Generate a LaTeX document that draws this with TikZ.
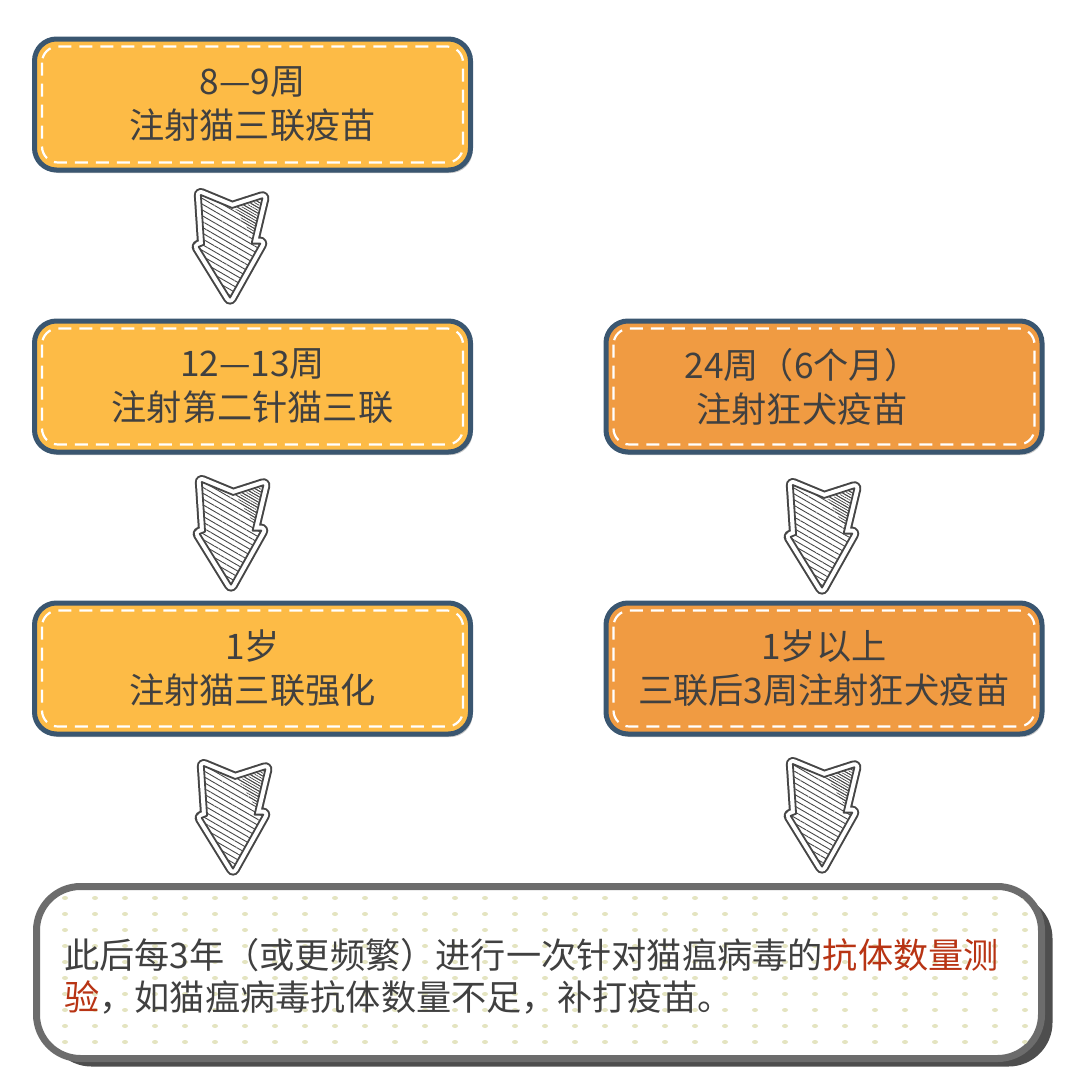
\documentclass[tikz,border=0pt]{standalone}
\usepackage{fontspec}
\setmainfont{Noto Sans CJK SC}
\usetikzlibrary{patterns.meta,shadows}
\definecolor{boxblue}{RGB}{58,86,112}
\definecolor{yel}{RGB}{253,187,70}
\definecolor{ora}{RGB}{240,155,66}
\definecolor{txt}{RGB}{64,64,64}
\definecolor{redt}{RGB}{184,52,20}
\definecolor{agray}{RGB}{70,70,70}
\definecolor{bgray}{RGB}{108,108,108}
\definecolor{bshadow}{RGB}{78,78,78}
\definecolor{dotc}{RGB}{228,228,192}
\newcommand\arrowshape{(-27,0) -- (2,12) -- (30,3) -- (20,45) -- (28,45) -- (0,95) -- (-29,48) -- (-24,46) -- cycle}
\tikzset{
  vbox/.style={draw=boxblue, line width=5pt, rounded corners=22pt, outer sep=0pt,
    minimum width=436pt, minimum height=131pt, align=center, text=txt,
    font=\fontsize{35.2pt}{44pt}\selectfont,
    drop shadow={shadow xshift=2pt, shadow yshift=-3pt, fill=black, opacity=0.22}},
  stitch/.style={draw=white, line width=2.2pt, rounded corners=16pt, dash pattern=on 13pt off 8pt},
  bottombox/.style={draw=bgray, fill=white, line width=7pt, rounded corners=44pt, outer sep=0pt,
    minimum width=1005pt, minimum height=172pt,
    drop shadow={shadow xshift=11pt, shadow yshift=-8pt, fill=bshadow, opacity=1}},
  bodytext/.style={text=txt, align=left, inner sep=0pt, font=\fontsize{35.2pt}{42pt}\selectfont},
  hatcharrow/.pic={
    \draw[agray, line width=14pt, line join=round] \arrowshape;
    \draw[white, line width=10pt, line join=round] \arrowshape;
    \fill[white] \arrowshape;
    \fill[pattern={Lines[angle=-30,distance=5pt,line width=0.9pt]}, pattern color=agray] \arrowshape;
    \fill[pattern={Lines[angle=-30,distance=2.5pt,line width=0.7pt]}, pattern color=agray] (5,13) -- (28,5) -- (21,38) -- cycle;
    \draw[agray, line width=1.8pt, line join=round] \arrowshape;
  }
}
\begin{document}
\begin{tikzpicture}[x=1pt, y=-1pt]
\useasboundingbox[fill=white] (0,0) rectangle (1080,1092);

% boxes
\node[vbox, fill=yel] (b1) at (252.5,104.5) {8—9周\\注射猫三联疫苗};
\node[vbox, fill=yel] (b2) at (252.5,386.5) {12—13周\\注射第二针猫三联};
\node[vbox, fill=ora] (b3) at (824,386.5) {};
\node[vbox, fill=yel] (b4) at (252.5,668.5) {1岁\\注射猫三联强化};
\node[vbox, fill=ora] (b5) at (824,668.5) {1岁以上\\三联后3周注射狂犬疫苗};
\node[text=txt, align=center, inner sep=0pt, font=\fontsize{35.2pt}{44pt}\selectfont] (t3) at ([xshift=-22]b3.center) {24周（6个月）\\注射狂犬疫苗};

\foreach \b in {b1,b2,b3,b4,b5}
  \draw[stitch] ([shift={(7.5,7.5)}]\b.north west) rectangle ([shift={(-7.5,-7.5)}]\b.south east);

% arrows
\pic[scale=1.08] at (230,195) {hatcharrow};
\pic[scale=1.08] at (231,482) {hatcharrow};
\pic[scale=1.08] at (822,485) {hatcharrow};
\pic[scale=1.08] at (233,766) {hatcharrow};
\pic[scale=1.08] at (822,764) {hatcharrow};

% bottom box
\node[bottombox] (b6) at (539,972.5) {};
\begin{scope}
  \clip[rounded corners=40pt] ([shift={(3.5,3.5)}]b6.north west) rectangle ([shift={(-3.5,-3.5)}]b6.south east);
  \foreach \x in {65,95,...,1035}
    \foreach \y in {898,914,...,1050}
      \fill[dotc] (\x,\y) ellipse [x radius=3, y radius=2];
\end{scope}
\node[bodytext, anchor=west] (t6) at (64,976) {此后每3年（或更频繁）进行一次针对猫瘟病毒的\textcolor{redt}{抗体数量测}\\\textcolor{redt}{验}，如猫瘟病毒抗体数量不足，补打疫苗。};
\end{tikzpicture}
\end{document}
